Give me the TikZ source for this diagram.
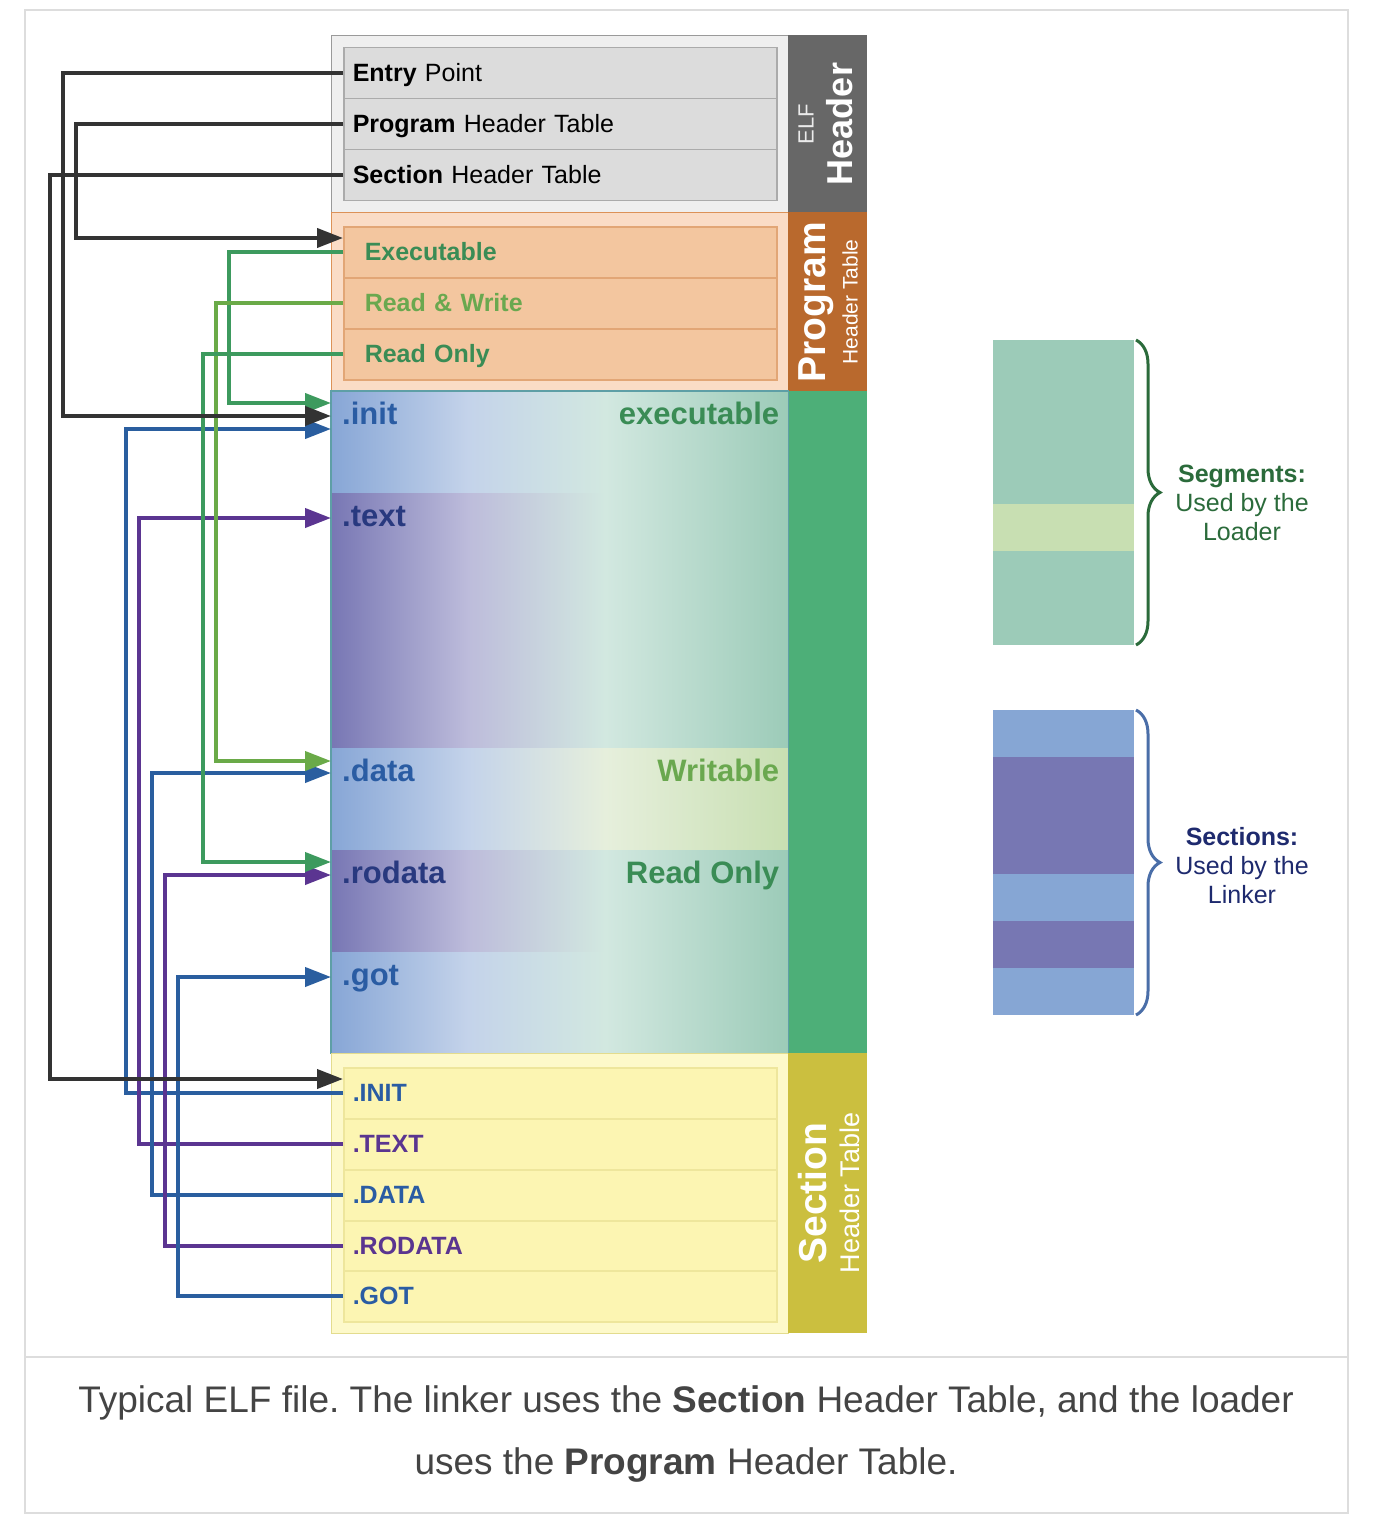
\documentclass[tikz,border=0pt]{standalone}
\usepackage{fontspec}
\setmainfont{Liberation Sans}
\usetikzlibrary{arrows.meta,calc,decorations.pathreplacing}

\definecolor{elfbg}{HTML}{EFEFEF}
\definecolor{elfedge}{HTML}{9A9A9A}
\definecolor{elfrow}{HTML}{DCDCDC}
\definecolor{elfrowedge}{HTML}{ABABAB}
\definecolor{elfbar}{HTML}{676767}
\definecolor{phbg}{HTML}{FADCC6}
\definecolor{phedge}{HTML}{DC9258}
\definecolor{phrow}{HTML}{F3C69F}
\definecolor{phrowedge}{HTML}{E2A676}
\definecolor{phbar}{HTML}{B9692D}
\definecolor{secbar}{HTML}{4DAF78}
\definecolor{secedge}{HTML}{5E9FA6}
\definecolor{shbg}{HTML}{FDF9CA}
\definecolor{shedge}{HTML}{E3DC8E}
\definecolor{shrow}{HTML}{FCF5B2}
\definecolor{shrowedge}{HTML}{EEE69C}
\definecolor{shbar}{HTML}{CBBF3F}
% gradient stops
\definecolor{gblue}{HTML}{87A6D6}
\definecolor{gbluelt}{HTML}{C4D3EA}
\definecolor{gpurple}{HTML}{7877B4}
\definecolor{gpurplelt}{HTML}{BDBCDB}
\definecolor{gteallt}{HTML}{D2E8E0}
\definecolor{gteal}{HTML}{9CCBB8}
\definecolor{gyellowlt}{HTML}{E6EFDC}
\definecolor{gyellow}{HTML}{C8DFB2}
% wires and labels
\definecolor{wblack}{HTML}{333333}
\definecolor{wgreen}{HTML}{3D9A5E}
\definecolor{wlime}{HTML}{6AAA48}
\definecolor{wblue}{HTML}{2A5E9F}
\definecolor{wpurple}{HTML}{5B3591}
\definecolor{tblue}{HTML}{2A5CA3}
\definecolor{tnavy}{HTML}{28397F}
\definecolor{tgreen}{HTML}{3A8C55}
\definecolor{tlime}{HTML}{6AA84F}
\definecolor{tpurple}{HTML}{5A3590}
\definecolor{segdark}{HTML}{2B6B3B}
\definecolor{secnavy}{HTML}{1E2A6E}
\definecolor{bracebl}{HTML}{4A6EA8}
\definecolor{legblue}{HTML}{86A6D4}
\definecolor{legpurple}{HTML}{7777B3}
\definecolor{capgray}{HTML}{444444}
\definecolor{framec}{HTML}{DDDDDD}

\pgfdeclarehorizontalshading{initshade}{100bp}{color(0bp)=(gblue); color(25bp)=(gblue); color(40bp)=(gbluelt); color(55bp)=(gteallt); color(75bp)=(gteal); color(100bp)=(gteal)}
\pgfdeclarehorizontalshading{textshade}{100bp}{color(0bp)=(gpurple); color(25bp)=(gpurple); color(40bp)=(gpurplelt); color(55bp)=(gteallt); color(75bp)=(gteal); color(100bp)=(gteal)}
\pgfdeclarehorizontalshading{datashade}{100bp}{color(0bp)=(gblue); color(25bp)=(gblue); color(40bp)=(gbluelt); color(55bp)=(gyellowlt); color(75bp)=(gyellow); color(100bp)=(gyellow)}

\frenchspacing

\begin{document}
\begin{tikzpicture}[
  x=1pt, y=-1pt,
  line cap=butt,
  line join=miter,
  block/.style={anchor=north west, minimum width=457pt, inner sep=0pt, line width=1.2pt},
  sidebar/.style={anchor=north west, minimum width=79pt, inner sep=0pt},
  bartxt/.style={text=white, inner sep=0pt, rotate=90},
  tabrow/.style={anchor=north west, minimum height=51pt, text width=415pt, inner xsep=9pt,
    inner ysep=0pt, text height=22pt, text depth=5pt, align=left, line width=1.5pt,
    font=\fontsize{25}{30}\selectfont},
  phrow/.style={tabrow, text width=391pt, inner xsep=21pt, draw=phrowedge, fill=phrow, font=\fontsize{25}{30}\selectfont\bfseries},
  shrow/.style={tabrow, draw=shrowedge, fill=shrow, font=\fontsize{25}{30}\selectfont\bfseries},
  region/.style={anchor=north west, minimum width=457pt, inner sep=0pt, shade, shading=#1},
  seclbl/.style={inner sep=0pt, font=\fontsize{31}{36}\selectfont\bfseries},
  wire/.style={draw=#1, line width=4pt, -{Triangle[length=26pt,width=19pt]}},
  legtxt/.style={align=center, font=\fontsize{25}{29}\selectfont}
]

% page and frame
\fill[white] (0,0) rectangle (1385,1533);
\useasboundingbox (0,0) rectangle (1385,1533);
\draw[framec, line width=2pt] (25,10) rectangle (1348,1513);
\draw[framec, line width=2pt] (25,1357) -- (1348,1357);

% ELF header
\node[block, fill=elfbg, draw=elfedge, minimum height=177pt] (elfblk) at (331,35) {};
\node[sidebar, fill=elfbar, minimum height=177pt] (elfbar) at (788,35) {};
\node[tabrow, draw=elfrowedge, fill=elfrow] (entry) at (343,47) {\textbf{Entry} Point};
\node[tabrow, draw=elfrowedge, fill=elfrow] (phtab) at (343,98) {\textbf{Program} Header Table};
\node[tabrow, draw=elfrowedge, fill=elfrow] (shtab) at (343,149) {\textbf{Section} Header Table};
\node[bartxt, text=white!92!black, font=\fontsize{22}{26}\selectfont] (elflbl) at (806,124) {ELF};
\node[bartxt, font=\fontsize{36}{40}\selectfont\bfseries] (elfhdr) at (840,124) {Header};

% Program header table
\node[block, fill=phbg, draw=phedge, minimum height=179pt] (phblk) at (331,212) {};
\node[sidebar, fill=phbar, minimum height=179pt] (phbarn) at (788,212) {};
\node[phrow, text=tgreen] (phexe) at (343,226) {Executable};
\node[phrow, text=tlime] (phrw) at (343,277) {Read \& Write};
\node[phrow, text=tgreen] (phro) at (343,328) {Read Only};
\node[bartxt, font=\fontsize{39}{42}\selectfont\bfseries] (phname) at (816,302) {Program};
\node[bartxt, font=\fontsize{21}{24}\selectfont] (phsub) at (850,302) {Header Table};

% Sections
\node[sidebar, fill=secbar, minimum height=662pt] (secbarn) at (788,391) {};
\node[region=initshade, minimum height=102pt] (secinit) at (331,391) {};
\node[region=textshade, minimum height=255pt] (sectext) at (331,493) {};
\node[region=datashade, minimum height=102pt] (secdata) at (331,748) {};
\node[region=textshade, minimum height=102pt] (secrodata) at (331,850) {};
\node[region=initshade, minimum height=101pt] (secgot) at (331,952) {};
\draw[secedge, line width=1.2pt] (secinit.north west) rectangle (secgot.south east);

\node[seclbl, text=tblue, anchor=base west] (initlbl) at ($(secinit.north west)+(11,33)$) {.init};
\node[seclbl, text=tgreen, anchor=base east] (exelbl) at ($(secinit.north east)+(-9,33)$) {executable};
\node[seclbl, text=tnavy, anchor=base west] (textlbl) at ($(sectext.north west)+(11,33)$) {.text};
\node[seclbl, text=tblue, anchor=base west] (datalbl) at ($(secdata.north west)+(11,33)$) {.data};
\node[seclbl, text=tlime, anchor=base east] (wrlbl) at ($(secdata.north east)+(-9,33)$) {Writable};
\node[seclbl, text=tnavy, anchor=base west] (rodatalbl) at ($(secrodata.north west)+(11,33)$) {.rodata};
\node[seclbl, text=tgreen, anchor=base east] (rolbl) at ($(secrodata.north east)+(-9,33)$) {Read Only};
\node[seclbl, text=tblue, anchor=base west] (gotlbl) at ($(secgot.north west)+(11,33)$) {.got};

% Section header table
\node[block, fill=shbg, draw=shedge, minimum height=280pt] (shblk) at (331,1053) {};
\node[sidebar, fill=shbar, minimum height=280pt] (shbarn) at (788,1053) {};
\node[shrow, text=tblue] (shinit) at (343,1067) {.INIT};
\node[shrow, text=tpurple] (shtext) at (343,1118) {.TEXT};
\node[shrow, text=tblue] (shdata) at (343,1169) {.DATA};
\node[shrow, text=tpurple] (shrodata) at (343,1220) {.RODATA};
\node[shrow, text=tblue] (shgot) at (343,1270) {.GOT};
\node[bartxt, font=\fontsize{39}{42}\selectfont\bfseries] (shname) at (813,1193) {Section};
\node[bartxt, font=\fontsize{27}{30}\selectfont] (shsub) at (850,1193) {Header Table};

% Section header links
\draw[wire=wblue] (shinit.west) -- ++(-217,0) |- ($(secinit.north west)+(0,38)$);
\draw[wire=wpurple] (shtext.west) -- ++(-204,0) |- ($(sectext.north west)+(0,25)$);
\draw[wire=wblue] (shdata.west) -- ++(-191,0) |- ($(secdata.north west)+(0,25)$);
\draw[wire=wpurple] (shrodata.west) -- ++(-178,0) |- ($(secrodata.north west)+(0,25)$);
\draw[wire=wblue] (shgot.west) -- ++(-165,0) |- ($(secgot.north west)+(0,25)$);

% Program header links
\draw[wire=wgreen] (phexe.west) -- ++(-114,0) |- ($(secinit.north west)+(0,12)$);
\draw[wire=wlime] (phrw.west) -- ++(-127,0) |- ($(secdata.north west)+(0,13)$);
\draw[wire=wgreen] (phro.west) -- ++(-140,0) |- ($(secrodata.north west)+(0,12)$);

% ELF header links
\draw[wire=wblack] (entry.west) -- ++(-280,0) |- ($(secinit.north west)+(0,25)$);
\draw[wire=wblack] (phtab.west) -- ++(-267,0) |- ($(phexe.north west)+(0,12)$);
\draw[wire=wblack] (shtab.west) -- ++(-293,0) |- ($(shinit.north west)+(0,12)$);

% Legend: segments
\fill[gteal] (993,340) rectangle (1134,504);
\fill[gyellow] (993,504) rectangle (1134,551);
\fill[gteal] (993,551) rectangle (1134,645);
\draw[segdark, line width=3pt, decorate, decoration={brace, amplitude=24pt}] (1136,340) -- (1136,645);
\node[legtxt, text=segdark] (seglbl) at (1242,503) {\textbf{Segments:}\\Used by the\\Loader};

% Legend: sections
\fill[legblue] (993,710) rectangle (1134,757);
\fill[legpurple] (993,757) rectangle (1134,874);
\fill[legblue] (993,874) rectangle (1134,921);
\fill[legpurple] (993,921) rectangle (1134,968);
\fill[legblue] (993,968) rectangle (1134,1015);
\draw[bracebl, line width=3pt, decorate, decoration={brace, amplitude=24pt}] (1136,710) -- (1136,1015);
\node[legtxt, text=secnavy] (sectlbl) at (1242,866) {\textbf{Sections:}\\Used by the\\Linker};

% Caption
\node[align=center, text=capgray, font=\fontsize{37}{62}\selectfont] (caption) at (686,1434)
  {Typical ELF file. The linker uses the \textbf{Section} Header Table, and the loader\\uses the \textbf{Program} Header Table.};

\end{tikzpicture}
\end{document}
